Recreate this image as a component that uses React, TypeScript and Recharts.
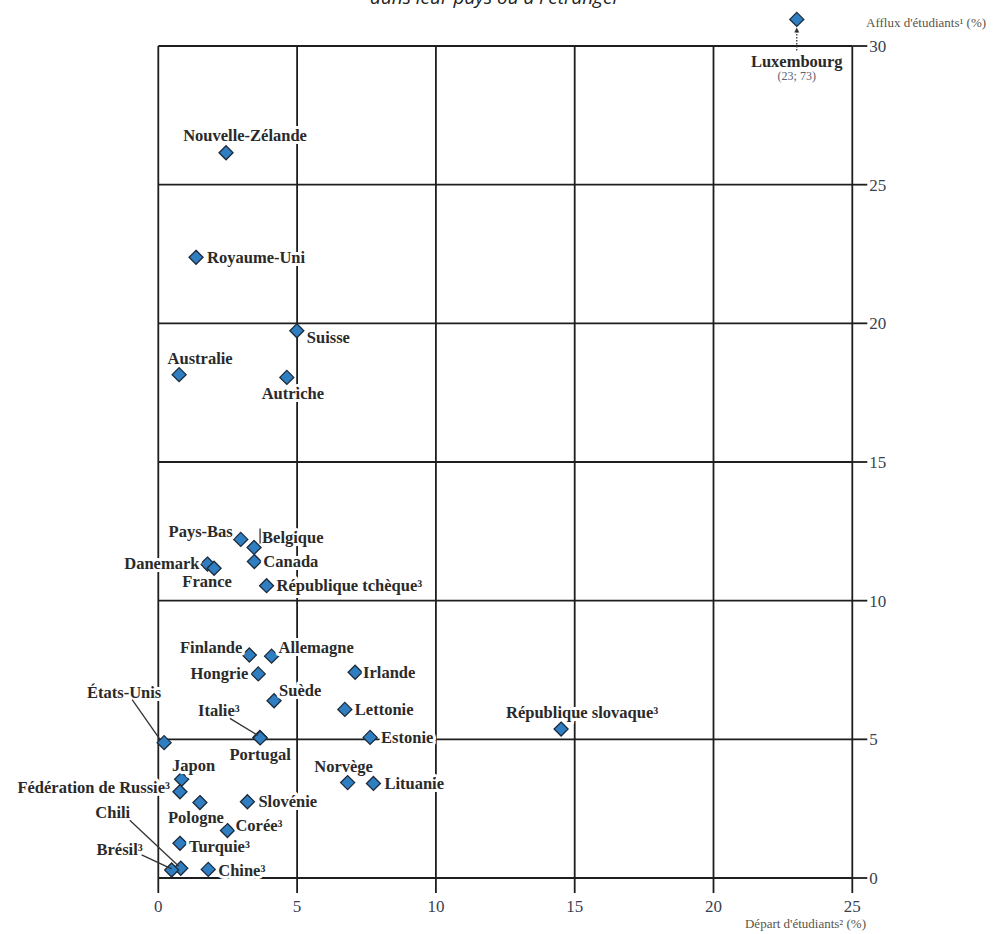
import { ScatterChart, Scatter, XAxis, YAxis, ReferenceLine } from "recharts";

// country names, student outflow (x) and inflow (y), in %
const countries = [
  "Luxembourg", "Nouvelle-Zélande", "Royaume-Uni", "Suisse", "Australie", "Autriche",
  "Pays-Bas", "Belgique", "Canada", "Danemark", "France", "République tchèque³",
  "Finlande", "Allemagne", "Hongrie", "Irlande", "États-Unis", "Suède", "Lettonie",
  "Italie³", "Portugal", "Estonie", "République slovaque³", "Japon", "Fédération de Russie³",
  "Norvège", "Lituanie", "Pologne", "Slovénie", "Corée³", "Turquie³", "Chili", "Brésil³", "Chine³",
];
const departPct = [
  23, 2.44, 1.36, 4.99, 0.75, 4.63,
  2.97, 3.45, 3.46, 1.77, 2.01, 3.9,
  3.28, 4.08, 3.6, 7.09, 0.21, 4.17, 6.72,
  3.66, 3.67, 7.63, 14.51, 0.84, 0.78,
  6.82, 7.75, 1.5, 3.21, 2.49, 0.78, 0.81, 0.48, 1.8,
];
const affluxPct = [
  73, 26.15, 22.38, 19.73, 18.15, 18.05,
  12.21, 11.92, 11.41, 11.32, 11.17, 10.54,
  8.04, 8.0, 7.36, 7.42, 4.88, 6.39, 6.08,
  5.07, 5.05, 5.07, 5.37, 3.56, 3.11,
  3.44, 3.41, 2.72, 2.75, 1.71, 1.25, 0.35, 0.29, 0.31,
];

const xTicks = [0, 5, 10, 15, 20, 25];
const yTicks = [0, 5, 10, 15, 20, 25, 30];

// values above the scale (Luxembourg) are drawn just over the top line
const OFF_SCALE_Y = 30.96;

const points = countries.map((name, i) => ({
  name,
  x: departPct[i],
  y: Math.min(affluxPct[i], OFF_SCALE_Y),
  depart: departPct[i],
  afflux: affluxPct[i],
}));

type Place = {
  dx: number;
  dy: number;
  anchor: "start" | "middle" | "end";
  leader?: [number, number, number, number];
};

// label offsets relative to the marker, in px
const placement: Record<string, Place> = {
  "Luxembourg": { dx: 0, dy: 42, anchor: "middle", leader: [0, 31, 0, 10] },
  "Nouvelle-Zélande": { dx: 19, dy: -17, anchor: "middle" },
  "Royaume-Uni": { dx: 11, dy: 0, anchor: "start" },
  "Suisse": { dx: 10, dy: 7, anchor: "start" },
  "Australie": { dx: 21, dy: -16, anchor: "middle" },
  "Autriche": { dx: 6, dy: 16, anchor: "middle" },
  "Pays-Bas": { dx: -8, dy: -8, anchor: "end" },
  "Belgique": { dx: 8, dy: -10, anchor: "start", leader: [6, -19, 6, -4] },
  "Canada": { dx: 9, dy: 0, anchor: "start" },
  "Danemark": { dx: -8, dy: -1, anchor: "end" },
  "France": { dx: -7, dy: 13, anchor: "middle" },
  "République tchèque³": { dx: 10, dy: 0, anchor: "start" },
  "Finlande": { dx: -7, dy: -8, anchor: "end" },
  "Allemagne": { dx: 7, dy: -9, anchor: "start" },
  "Hongrie": { dx: -10, dy: 0, anchor: "end" },
  "Irlande": { dx: 8, dy: 0, anchor: "start" },
  "États-Unis": { dx: -40, dy: -50, anchor: "middle", leader: [-32, -43, -4, -3] },
  "Suède": { dx: 5, dy: -10, anchor: "start" },
  "Lettonie": { dx: 10, dy: 0, anchor: "start" },
  "Italie³": { dx: -41, dy: -27, anchor: "middle", leader: [-30, -19, -2, -2] },
  "Portugal": { dx: 0, dy: 17, anchor: "middle" },
  "Estonie": { dx: 11, dy: 0, anchor: "start" },
  "République slovaque³": { dx: 21, dy: -17, anchor: "middle" },
  "Japon": { dx: 12, dy: -14, anchor: "middle" },
  "Fédération de Russie³": { dx: -10, dy: -4, anchor: "end" },
  "Norvège": { dx: -4, dy: -16, anchor: "middle" },
  "Lituanie": { dx: 11, dy: 0, anchor: "start" },
  "Pologne": { dx: -4, dy: 15, anchor: "middle" },
  "Slovénie": { dx: 11, dy: 0, anchor: "start" },
  "Corée³": { dx: 8, dy: -5, anchor: "start" },
  "Turquie³": { dx: 9, dy: 3, anchor: "start" },
  "Chili": { dx: -68, dy: -56, anchor: "middle", leader: [-51, -48, -2, -2] },
  "Brésil³": { dx: -52, dy: -20, anchor: "middle", leader: [-30, -15, 0, -1] },
  "Chine³": { dx: 10, dy: 1, anchor: "start" },
};

const serif = "'Liberation Serif', 'DejaVu Serif', serif";

function Diamond(props: any) {
  const { cx, cy } = props;
  const r = 7;
  return (
    <path
      d={`M${cx},${cy - r}L${cx + r},${cy}L${cx},${cy + r}L${cx - r},${cy}Z`}
      fill="#2f7ec1"
      stroke="#1d2b3a"
      strokeWidth={1.3}
    />
  );
}

function CountryLabel(props: any) {
  const { cx, cy, payload } = props;
  const p = placement[payload.name];
  if (!p) return <g />;
  const isLux = payload.name === "Luxembourg";
  return (
    <g>
      <text
        x={cx + p.dx}
        y={cy + p.dy}
        textAnchor={p.anchor}
        dominantBaseline="central"
        fontFamily={serif}
        fontWeight="bold"
        fontSize={16.5}
        fill="#2a2a2a"
        stroke="#fff"
        strokeWidth={6}
        strokeLinejoin="round"
        paintOrder="stroke"
      >
        {payload.name}
      </text>
      {p.leader && (
        <line
          x1={cx + p.leader[0]}
          y1={cy + p.leader[1]}
          x2={cx + p.leader[2]}
          y2={cy + p.leader[3]}
          stroke="#333"
          strokeWidth={1.3}
          strokeDasharray={isLux ? "1.5 1.5" : undefined}
        />
      )}
      {isLux && (
        <path d={`M${cx},${cy + 8}L${cx + 2.5},${cy + 13}L${cx - 2.5},${cy + 13}Z`} fill="#333" />
      )}
      {isLux && (
        <text
          x={cx}
          y={cy + 57}
          textAnchor="middle"
          dominantBaseline="central"
          fontFamily={serif}
          fontSize={12}
          fill="#5b6272"
        >
          ({payload.depart}; {payload.afflux})
        </text>
      )}
    </g>
  );
}

export default function App() {
  return (
    <div style={{ position: "absolute", left: 0, top: 0, width: 999, height: 934, overflow: "hidden", background: "#fff" }}>
      <div
        style={{
          position: "absolute",
          left: 370,
          top: -12,
          fontFamily: "'Open Sans', sans-serif",
          fontStyle: "italic",
          fontSize: 19,
          lineHeight: "19px",
          color: "#222",
          whiteSpace: "nowrap",
        }}
      >
        dans leur pays ou à l'étranger
      </div>
      <ScatterChart
        width={999}
        height={934}
        margin={{ top: 4.4, right: 106.7, bottom: 16, left: 158.3 }}
      >
        {yTicks.map((v) => (
          <ReferenceLine
            key={"h" + v}
            segment={[{ x: 0, y: v }, { x: 25, y: v }]}
            stroke="#1e1e1e"
            strokeWidth={1.8}
            ifOverflow="visible"
          />
        ))}
        {xTicks.map((v) => (
          <ReferenceLine
            key={"v" + v}
            segment={[{ x: v, y: 0 }, { x: v, y: 30 }]}
            stroke="#1e1e1e"
            strokeWidth={1.8}
            ifOverflow="visible"
          />
        ))}
        <XAxis
          type="number"
          dataKey="x"
          domain={[0, 25]}
          ticks={xTicks}
          interval={0}
          height={40}
          tickSize={15}
          tickMargin={7}
          axisLine={false}
          stroke="#1e1e1e"
          tickLine={{ stroke: "#1e1e1e", strokeWidth: 1.8 }}
          tick={{ fill: "#3a4250", fontSize: 17, fontFamily: serif }}
        />
        <YAxis
          type="number"
          dataKey="y"
          orientation="right"
          domain={[0, 31.5]}
          ticks={yTicks}
          interval={0}
          width={40}
          tickSize={15}
          tickMargin={2}
          axisLine={false}
          stroke="#1e1e1e"
          tickLine={{ stroke: "#1e1e1e", strokeWidth: 1.8 }}
          tick={{ fill: "#3a4250", fontSize: 17, fontFamily: serif }}
        />
        <Scatter data={points} shape={Diamond} isAnimationActive={false} />
        <Scatter data={points} shape={CountryLabel} isAnimationActive={false} />
      </ScatterChart>
      <div
        style={{
          position: "absolute",
          left: 866,
          top: 15,
          fontFamily: serif,
          fontSize: 13,
          color: "#5a5448",
          whiteSpace: "nowrap",
        }}
      >
        Afflux d'étudiants¹ (%)
      </div>
      <div
        style={{
          position: "absolute",
          right: 999 - 866,
          top: 916,
          fontFamily: serif,
          fontSize: 13,
          color: "#5a5448",
          whiteSpace: "nowrap",
        }}
      >
        Départ d'étudiants² (%)
      </div>
    </div>
  );
}
